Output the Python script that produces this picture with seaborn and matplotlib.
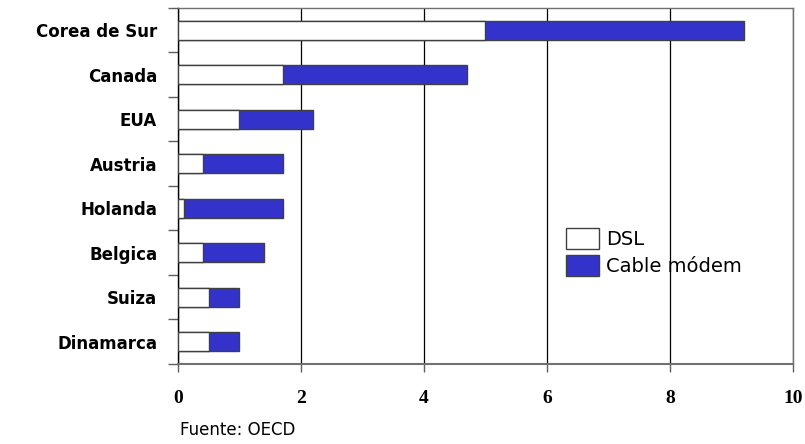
import seaborn as sns
import matplotlib.pyplot as plt
import pandas as pd
import numpy as np

# data
countries = ["Corea de Sur", "Canada", "EUA", "Austria", "Holanda", "Belgica", "Suiza", "Dinamarca"]
dsl = [5.0, 1.7, 1.0, 0.4, 0.1, 0.4, 0.5, 0.5]
cable = [4.2, 3.0, 1.2, 1.3, 1.6, 1.0, 0.5, 0.5]

df = pd.DataFrame({"Pais": countries, "DSL": dsl, "Cable": cable})
df["Total"] = df["DSL"] + df["Cable"]

sns.set_style("white")
plt.rcParams["text.color"] = "black"
plt.rcParams["xtick.color"] = "black"
plt.rcParams["ytick.color"] = "black"

fig = plt.figure(figsize=(8.05, 4.44), dpi=100)
ax = fig.add_axes([0.2211, 0.1802, 0.7640, 0.8018])

blue = "#3333CC"
edge = "#404040"

# cable stacked on top of DSL: draw totals first, DSL over them
sns.barplot(data=df, x="Total", y="Pais", orient="h", color=blue,
            edgecolor=edge, linewidth=1.0, width=0.43, saturation=1, ax=ax,
            label="Cable módem", zorder=3)
sns.barplot(data=df, x="DSL", y="Pais", orient="h", color="white",
            edgecolor=edge, linewidth=1.0, width=0.43, saturation=1, ax=ax,
            label="DSL", zorder=3)

ax.set_xlim(0, 10)
ax.set_ylim(len(countries) - 0.5, -0.5)
ax.set_xlabel("")
ax.set_ylabel("")

# x axis
ax.set_xticks(np.arange(0, 11, 2))
ax.set_xticklabels([str(v) for v in range(0, 11, 2)],
                   fontfamily="Liberation Serif", fontweight="bold", fontsize=14)
ax.tick_params(axis="x", bottom=True, direction="out", length=6, width=1,
               color="#606060", labelcolor="black", pad=13)
ax.grid(axis="x", color="black", linewidth=0.9, zorder=0)
ax.set_axisbelow(True)

# y axis: labels at centres, ticks at boundaries
ax.set_yticks(np.arange(len(countries)))
ax.set_yticklabels(countries, fontfamily="DejaVu Sans", fontweight="bold", fontsize=12)
ax.tick_params(axis="y", which="major", left=False, length=0, labelleft=True,
               labelcolor="black", pad=15)
ax.set_yticks(np.arange(-0.5, len(countries), 1), minor=True)
ax.tick_params(axis="y", which="minor", left=True, direction="out", length=7,
               width=1, color="#606060")

for side in ["top", "right", "bottom"]:
    ax.spines[side].set_color("#707070")
    ax.spines[side].set_linewidth(1.0)
ax.spines["left"].set_color("black")
ax.spines["left"].set_linewidth(1.0)
ax.spines["bottom"].set_linewidth(1.5)

# legend
handles, labels = ax.get_legend_handles_labels()
order = [labels.index("DSL"), labels.index("Cable módem")]
ax.legend([handles[i] for i in order], [labels[i] for i in order],
          loc="upper left", bbox_to_anchor=(0.618, 0.405), frameon=False,
          prop={"family": "DejaVu Sans", "size": 14},
          handlelength=1.7, handleheight=1.3, handletextpad=0.35, labelspacing=0.3,
          borderaxespad=0)

fig.text(180 / 805, 1 - 430 / 444, "Fuente: OECD", fontsize=12,
         fontfamily="DejaVu Sans", va="center", ha="left")

fig.savefig("out.png", dpi=100)
plt.close(fig)
